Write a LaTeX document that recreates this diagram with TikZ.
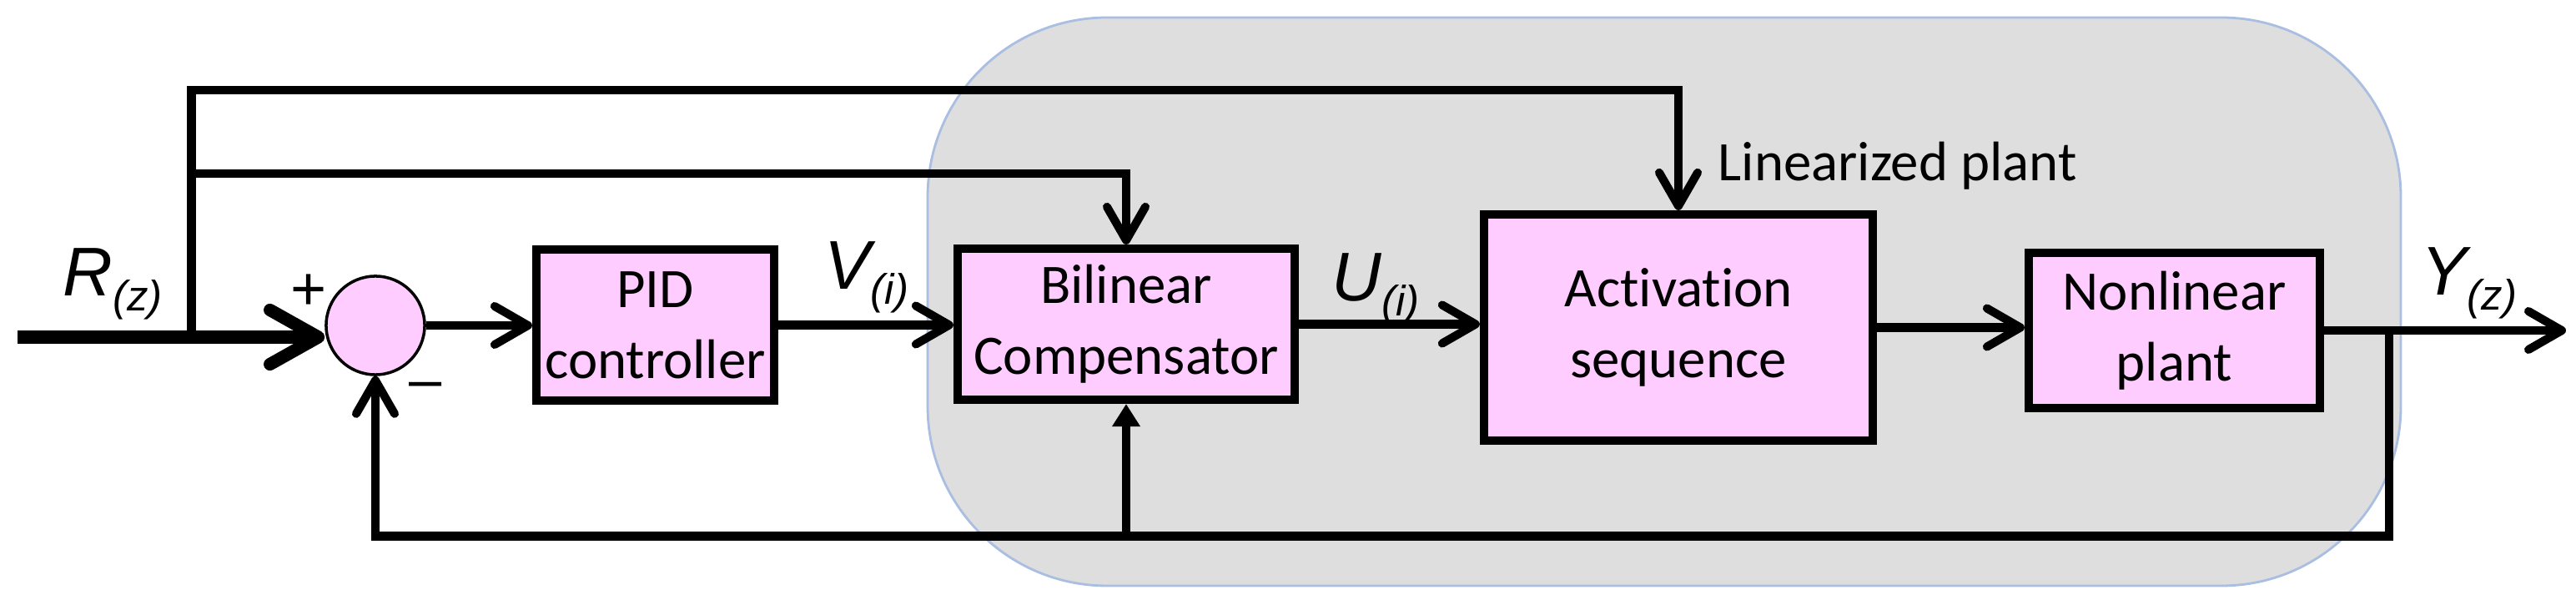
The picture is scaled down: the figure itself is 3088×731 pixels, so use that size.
\documentclass[tikz,border=0pt]{standalone}
\usepackage{fontspec}
\setmainfont{Carlito}[Ligatures=NoCommon]
\newfontfamily\labfont{Liberation Sans}
\usetikzlibrary{arrows.meta}
\definecolor{boxpink}{HTML}{FFCCFF}
\definecolor{regiongray}{HTML}{DEDEDE}
\definecolor{regionblue}{HTML}{A9BEE0}
\newcommand\sigl[2]{{\labfont\itshape\fontsize{23.5}{28}\selectfont #1\raisebox{-5pt}{\fontsize{14.5}{17}\selectfont (#2)}}}
\begin{document}
\begin{tikzpicture}[x=0.01cm,y=-0.01cm,
  blockbox/.style={draw=black,line width=2.85pt,fill=boxpink,align=center,inner sep=0pt,
    font=\fontsize{19}{24.2}\selectfont},
  sumnode/.style={circle,draw=black,line width=1pt,fill=boxpink,minimum size=1.18cm,inner sep=0pt},
  conn/.style={line width=2.85pt},
  inconn/.style={line width=4.3pt},
  barb/.style={-{Straight Barb[length=4mm,width=4.6mm,round]}},
  bigbarb/.style={-{Straight Barb[length=5.8mm,width=6.5mm,round]}},
  tri/.style={-{Triangle[length=2.7mm,width=3.2mm]}},
  siglabel/.style={anchor=base west,inner sep=0pt},
  plain/.style={inner sep=0pt,font=\fontsize{19}{24.2}\selectfont}
]
\useasboundingbox (0,0) rectangle (3088,731);
% shaded region
\draw[fill=regiongray,draw=regionblue,line width=0.8pt,rounded corners=2.15cm] (1112,21) rectangle (2878,702);

% blocks
\node[sumnode] (sum) at (450,390) {};
\node[blockbox,minimum width=2.85cm,minimum height=1.81cm] (pid) at (785.5,389.5) {PID\\controller};
\node[blockbox,minimum width=4.04cm,minimum height=1.81cm] (bil) at (1350,388.5) {Bilinear\\Compensator};
\node[blockbox,minimum width=4.66cm,minimum height=2.71cm] (act) at (2012,392.5) {Activation\\sequence};
\node[blockbox,minimum width=3.49cm,minimum height=1.86cm] (nl) at (2606.5,396) {Nonlinear\\plant};

% labels
\node[siglabel] (rlab) at (75,355) {\sigl{R}{z}};
\node[siglabel] (vlab) at (988,347) {\sigl{V}{i}};
\node[siglabel] (ulab) at (1596,361) {\sigl{U}{i}};
\node[siglabel] (ylab) at (2902,354) {\sigl{Y}{z}};
\node[plain,anchor=base west] (linlab) at (2059,217) {Linearized plant};
\node[inner sep=0pt,font=\labfont\fontsize{21}{24}\selectfont] (plus) at (370,350) {+};
\node[inner sep=0pt,font=\labfont\fontsize{20}{24}\selectfont] (minus) at (510,468) {–};

% helper coordinates
\coordinate (in) at (21,404);
\coordinate (br) at (229.5,404);
\coordinate (top) at (0,108);
\coordinate (mid) at (0,208);
\coordinate (bot) at (0,642.5);
\coordinate (fbk) at (2864,0);
\coordinate (outend) at (3076,0);

% connectors
\draw[inconn,bigbarb] (in) -- (in -| sum.west);
\draw[conn,barb] (br) |- (top -| act.north) -- (act.north);
\draw[conn,barb] (br |- mid) -| (bil.north);
\draw[conn,barb] (sum.east) -- (sum.east -| pid.west);
\draw[conn,barb] (pid.east) -- (pid.east -| bil.west);
\draw[conn,barb] (bil.east) -- (bil.east -| act.west);
\draw[conn,barb] (act.east) -- (act.east -| nl.west);
\draw[conn,barb] (nl.east) -- (nl.east -| outend);
\draw[conn,barb] (nl.east -| fbk) |- (bot -| sum.south) -- (sum.south);
\draw[conn,tri] (bot -| bil.south) -- (bil.south);
\end{tikzpicture}
\end{document}
